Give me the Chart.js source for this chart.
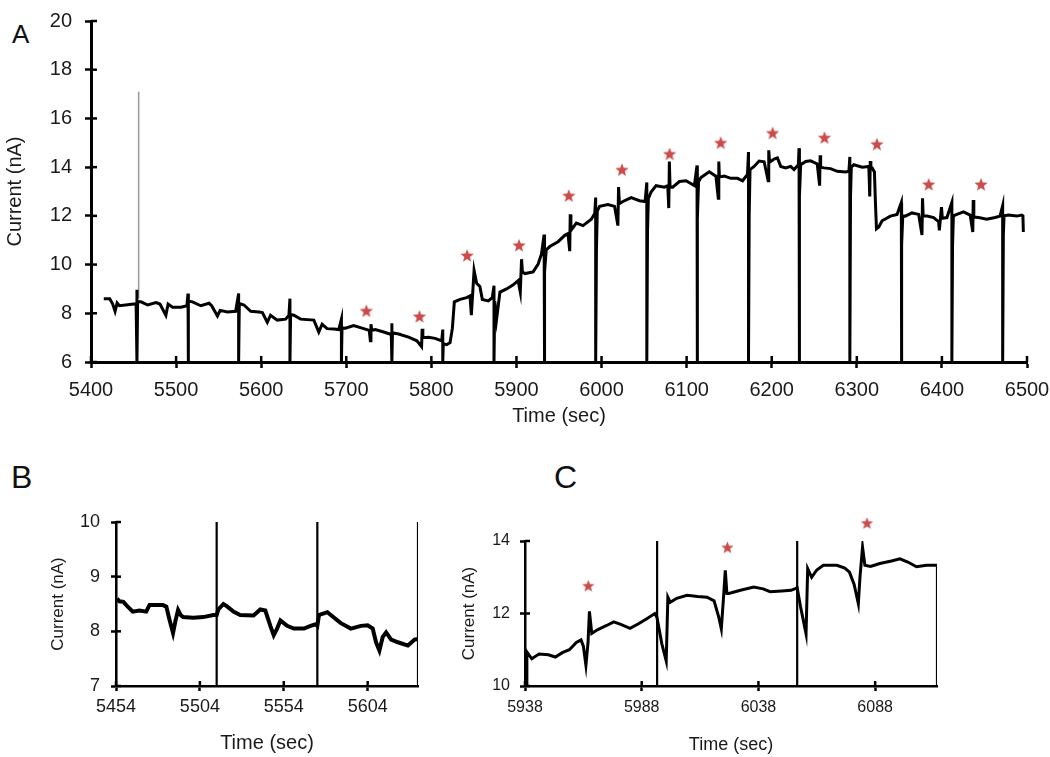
<!DOCTYPE html>
<html>
<head>
<meta charset="utf-8">
<script src="https://cdn.jsdelivr.net/npm/chart.js@4.4.1/dist/chart.umd.min.js"></script>
<style>
  html, body { margin: 0; padding: 0; background: #fff; }
  body { width: 1050px; height: 757px; position: relative; overflow: hidden; font-family: "Liberation Sans", Arial, sans-serif; }
  canvas { position: absolute; }
  .lbl { position: absolute; line-height: 1; color: #111; font-family: "Liberation Sans", Arial, sans-serif; }
</style>
</head>
<body>
<div class="lbl" style="left:12px; top:21px; font-size:26px;">A</div>
<div class="lbl" style="left:11px; top:461px; font-size:32px;">B</div>
<div class="lbl" style="left:554px; top:461px; font-size:32px;">C</div>
<canvas id="cA" width="1050" height="430" style="left:0; top:0;"></canvas>
<canvas id="cB" width="450" height="317" style="left:0; top:440px;"></canvas>
<canvas id="cC" width="610" height="317" style="left:440px; top:440px;"></canvas>
<script>
// ---------------- Panel A data ----------------
const aXTicks = [5400, 5500, 5600, 5700, 5800, 5900, 6000, 6100, 6200, 6300, 6400, 6500];
const aYTicks = [6, 8, 10, 12, 14, 16, 18, 20];
const aTime = [
  5415, 5422, 5425.5, 5428.3, 5430.7, 5433.4, 5443, 5453, 5454, 5454, 5454.8, 5458.8, 5466.6, 5476.4, 5481, 5488, 5490.6, 5495.8, 5505.7, 5512.7,
  5514, 5514, 5514.8, 5519.3, 5529, 5538.8, 5541.8, 5548.6, 5551.8, 5560.3, 5570,
  5573.5, 5573.5, 5574.3, 5579.8, 5587.7, 5597.5, 5601.4, 5607.2, 5611, 5618.9, 5628.7, 5632.6,
  5633.8, 5633.8, 5634.6, 5638.4, 5646.3, 5661.9, 5667.7, 5671.6, 5677.5, 5685.3, 5691.2,
  5694.3, 5694.3, 5695, 5699, 5708.7, 5718.5, 5727, 5728.3, 5729, 5730, 5734.2, 5743.9, 5752.9,
  5753.6, 5753.6, 5754.3, 5761.5, 5773.2, 5783, 5788.5, 5789.2, 5790, 5796.6, 5804.4, 5812.2,
  5813.4, 5813.4, 5814, 5818, 5822, 5824.7, 5827, 5833.7, 5841.5, 5845.4, 5847, 5850.2, 5853.2, 5857, 5859.9, 5866.9, 5871.6,
  5873.6, 5873.6, 5874.5, 5876.6, 5880.6, 5888.4, 5896.2, 5902, 5904.5, 5906, 5907, 5910, 5919.6, 5925.5, 5929.4,
  5932.5, 5932.5, 5933.5, 5935, 5939.2, 5948.9, 5956.8, 5960.6, 5962.6, 5963.2, 5964, 5970.4, 5978.2, 5988, 5992,
  5993.1, 5993.1, 5994, 5995, 5997.8, 6007.5, 6015.3, 6019.2, 6020, 6021, 6025.1, 6034.8, 6044.6, 6051.2,
  6053.2, 6053.2, 6054, 6055, 6058.2, 6064.1, 6073.9, 6077.8, 6079, 6079.7, 6080.5, 6083.7, 6091.5, 6099.3, 6109.1,
  6112.2, 6112.2, 6113, 6114, 6116.8, 6126.6, 6134.4, 6137.2, 6137.8, 6138.5, 6144.2, 6152, 6159.8, 6165.7, 6171.5,
  6172.7, 6172.7, 6173.5, 6174.5, 6179.3, 6185.2, 6191.1, 6195.8, 6196.5, 6197.5, 6202.8, 6206.7, 6210.6, 6216.4, 6222.3, 6226.2, 6231.3,
  6232.1, 6232.1, 6233, 6234, 6239.9, 6245.7, 6253.5, 6256.3, 6256.9, 6257.5, 6261.4, 6269.2, 6277, 6286.8, 6290.7,
  6291.8, 6291.8, 6292.6, 6293.5, 6296.5, 6306.3, 6314.1, 6315.2, 6315.8, 6316.5, 6318, 6320.7, 6321.9, 6323.1, 6325.8, 6329.7, 6339.5, 6347.3,
  6352.3, 6352.3, 6353, 6354, 6357, 6364.8, 6372.7, 6376.6, 6377.2, 6378, 6382.4, 6390.3, 6396.1, 6397, 6399.5, 6400.5, 6405.9,
  6411.7, 6411.7, 6412.5, 6413.5, 6417.6, 6425.4, 6433.2, 6436.3, 6436.8, 6437.5, 6443, 6452.7, 6462.5, 6468.3,
  6471.4, 6471.4, 6472.2, 6473, 6478.2, 6488, 6493.8, 6495.2, 6495.7
];
const aCurrent = [
  8.60, 8.60, 8.38, 8.08, 8.42, 8.31, 8.35, 8.39, 8.97, 6, 8.47, 8.47, 8.34, 8.44, 8.38, 7.92, 8.38, 8.25, 8.25, 8.31,
  8.81, 6, 8.50, 8.47, 8.31, 8.41, 8.31, 7.89, 8.12, 8.05, 8.08,
  8.81, 6, 8.40, 8.34, 8.08, 8.05, 8.03, 7.63, 7.92, 7.72, 7.76, 7.92,
  8.60, 6, 7.95, 7.92, 7.76, 7.72, 7.23, 7.55, 7.37, 7.35, 7.33,
  7.76, 6, 7.40, 7.39, 7.50, 7.39, 7.30, 6.87, 7.55, 7.30, 7.33, 7.23, 7.13,
  7.59, 6, 7.20, 7.15, 7.02, 6.87, 6.63, 7.36, 7.00, 7.02, 6.97, 6.87,
  7.33, 6, 6.75, 6.71, 6.80, 7.39, 8.47, 8.57, 8.64, 8.71, 7.92, 9.76, 9.23, 9.10, 8.57, 8.51, 8.64,
  9.13, 6, 8.50, 7.74, 8.87, 9.00, 9.17, 9.34, 8.87, 10.22, 9.70, 9.63, 9.70, 10.02, 10.44,
  11.23, 6, 9.70, 10.60, 10.74, 10.94, 11.20, 11.27, 10.55, 12.06, 11.40, 11.70, 11.60, 11.86, 12.10,
  12.75, 6, 10.60, 12.20, 12.39, 12.46, 12.39, 11.60, 13.18, 12.50, 12.59, 12.75, 12.62, 12.59,
  13.37, 6, 11.33, 12.70, 12.98, 13.24, 13.18, 13.24, 12.32, 14.23, 13.20, 13.18, 13.41, 13.44, 13.24,
  14.07, 6, 11.84, 13.40, 13.57, 13.81, 13.63, 12.72, 14.23, 13.60, 13.63, 13.54, 13.54, 13.44, 13.70,
  14.62, 6, 12.00, 13.90, 14.03, 14.25, 14.22, 13.44, 14.69, 14.20, 14.33, 14.38, 14.03, 13.97, 14.03, 13.90, 14.10,
  14.78, 6, 12.80, 14.10, 14.23, 14.26, 14.13, 13.24, 14.49, 14.00, 13.97, 13.94, 13.83, 13.80, 13.83,
  14.42, 6, 12.80, 14.00, 14.10, 14.00, 14.03, 12.80, 14.25, 14.00, 13.97, 13.80, 12.52, 11.47, 11.54, 11.80, 11.99, 12.06,
  12.55, 6, 10.80, 12.00, 11.99, 12.12, 12.06, 11.21, 12.72, 12.00, 11.99, 11.93, 11.76, 11.40, 12.36, 11.90, 11.93,
  12.55, 6, 10.80, 12.00, 12.06, 12.16, 12.03, 11.34, 12.65, 11.95, 11.93, 11.86, 11.93, 11.99,
  12.42, 6, 11.20, 12.00, 12.03, 11.99, 12.03, 12.00, 11.34
];
const aMarkerTime = [5456, 5456];
const aMarkerCurrent = [8.6, 17.1];
const aStarTime = [5723.6, 5786, 5842, 5903, 5961.5, 6024, 6080, 6140, 6201, 6262, 6323.6, 6384.4, 6446];
const aStarValue = [8.08, 7.85, 10.35, 10.77, 12.81, 13.87, 14.52, 14.98, 15.38, 15.19, 14.92, 13.27, 13.27];

// ---------------- Panel B data ----------------
const bXTicks = [5454, 5504, 5554, 5604];
const bYTicks = [7, 8, 9, 10];
const bTime = [
  5454.6, 5456, 5458.4, 5461, 5464, 5468, 5472, 5474, 5482, 5484, 5486, 5488, 5489.5, 5491, 5492.5, 5494, 5500, 5506, 5512, 5514,
  5515, 5518, 5520, 5524, 5528, 5536, 5540, 5543, 5546, 5548, 5550, 5552, 5556, 5560, 5566, 5570, 5573, 5574,
  5575, 5577, 5580, 5582, 5588, 5594, 5600, 5604, 5607, 5609, 5611, 5613, 5615, 5618, 5622, 5628, 5632, 5634
];
const bCurrent = [
  8.60, 8.55, 8.54, 8.45, 8.36, 8.38, 8.36, 8.48, 8.48, 8.45, 8.20, 7.97, 8.20, 8.39, 8.30, 8.26, 8.25, 8.26, 8.30, 8.30,
  8.40, 8.50, 8.46, 8.36, 8.30, 8.29, 8.40, 8.38, 8.10, 7.93, 8.05, 8.20, 8.10, 8.05, 8.05, 8.10, 8.13, 8.10,
  8.30, 8.32, 8.35, 8.30, 8.15, 8.05, 8.10, 8.11, 8.05, 7.80, 7.65, 7.90, 7.98, 7.85, 7.80, 7.74, 7.85, 7.86
];
const bSpikeTime = [5454, 5514, 5574, 5634];
const bSpikeLow = [7, 7, 7, 7];
const bSpikeHigh = [10, 10, 10, 10];

// ---------------- Panel C data ----------------
const cXTicks = [5938, 5988, 6038, 6088];
const cYTicks = [10, 12, 14];
const cTime = [
  5938.5, 5938.8, 5940.9, 5944, 5948, 5951, 5954, 5957, 5960, 5962, 5963, 5964.1, 5965, 5965.6, 5966.6, 5969, 5973, 5976, 5979, 5983, 5987, 5990, 5993.6, 5994.5,
  5996.6, 5998.5, 5999.2, 6000.2, 6003, 6007.4, 6012, 6016, 6019, 6021, 6022.1, 6023, 6023.8, 6024.5, 6025.3, 6030.3, 6036, 6040, 6043, 6048, 6052, 6054.6,
  6056, 6058.4, 6059.1, 6060.8, 6063, 6065.8, 6071.6, 6075, 6077, 6079, 6080.8, 6081.5, 6082.6, 6083.6, 6086, 6090, 6095, 6098.6, 6102, 6105.7, 6110, 6114.5
];
const cCurrent = [
  10.00, 10.94, 10.75, 10.88, 10.86, 10.80, 10.92, 11.00, 11.20, 11.27, 11.10, 10.57, 11.20, 12.06, 11.45, 11.55, 11.67, 11.77, 11.70, 11.59, 11.73, 11.85, 12.00, 11.90,
  11.17, 10.69, 12.45, 12.31, 12.42, 12.50, 12.47, 12.45, 12.35, 11.90, 11.58, 12.40, 13.19, 12.55, 12.55, 12.64, 12.73, 12.68, 12.60, 12.62, 12.64, 12.71,
  12.20, 11.44, 13.24, 13.00, 13.20, 13.33, 13.33, 13.25, 13.14, 12.80, 12.27, 13.00, 13.83, 13.33, 13.30, 13.38, 13.45, 13.51, 13.42, 13.29, 13.33, 13.33
];
const cSpikeTime = [5994.6, 6054.6, 6114.5];
const cSpikeLow = [10, 10, 10];
const cSpikeHigh = [14, 14, 13.33];
const cStarTime = [5965.1, 6024.7, 6084.5];
const cStarValue = [12.75, 13.81, 14.48];

// ---------------- helpers ----------------
const FONT = '"Liberation Sans", Arial, sans-serif';
const STAR_COLOR = '#cc4b4b';
const pts = (xs, ys) => xs.map((x, i) => ({ x: x, y: ys[i] }));
const spikePts = (ts, lo, hi) => {
  const out = [];
  ts.forEach((t, i) => { out.push({ x: t, y: lo[i] }, { x: t, y: hi[i] }, { x: t, y: null }); });
  return out;
};
function makeStar(r, color) {
  const s = Math.ceil(r * 2 + 2);
  const c = document.createElement('canvas');
  c.width = s; c.height = s;
  const g = c.getContext('2d');
  g.fillStyle = color;
  g.beginPath();
  for (let i = 0; i < 10; i++) {
    const rad = (i % 2) ? r * 0.42 : r;
    const a = -Math.PI / 2 + i * Math.PI / 5;
    g.lineTo(s / 2 + rad * Math.cos(a), s / 2 + rad * Math.sin(a));
  }
  g.closePath();
  g.fill();
  return c;
}
const innerTicks = {
  id: 'innerTicks',
  afterDatasetsDraw(chart, args, opts) {
    const ctx = chart.ctx;
    const len = opts.len || 5;
    ctx.save();
    ctx.strokeStyle = '#000';
    ctx.lineWidth = opts.width || 2;
    const xs = chart.scales.x, ys = chart.scales.y;
    xs.ticks.forEach(t => {
      const px = xs.getPixelForValue(t.value);
      ctx.beginPath(); ctx.moveTo(px, xs.top); ctx.lineTo(px, xs.top - len); ctx.stroke();
    });
    ys.ticks.forEach(t => {
      const py = ys.getPixelForValue(t.value);
      ctx.beginPath(); ctx.moveTo(ys.right, py); ctx.lineTo(ys.right + len, py); ctx.stroke();
    });
    ctx.restore();
  }
};

function makeChart(id, cfg) {
  const xTicks = cfg.xTicks, yTicks = cfg.yTicks;
  return new Chart(document.getElementById(id), {
    type: 'scatter',
    data: { datasets: cfg.datasets },
    plugins: [innerTicks],
    options: {
      responsive: false,
      devicePixelRatio: 1,
      animation: false,
      events: [],
      layout: { padding: cfg.padding },
      plugins: {
        legend: { display: false },
        tooltip: { enabled: false },
        innerTicks: { len: cfg.tickLen, width: cfg.tickWidth }
      },
      elements: { point: { radius: 0 }, line: { tension: 0 } },
      scales: {
        x: {
          type: 'linear',
          min: cfg.xMin, max: cfg.xMax,
          afterBuildTicks: s => { s.ticks = xTicks.map(v => ({ value: v })); },
          afterFit: s => { s.height = cfg.xHeight; s.paddingLeft = 0; s.paddingRight = 0; },
          grid: { display: true, drawOnChartArea: false, drawTicks: true, tickLength: cfg.tickLen, tickWidth: cfg.tickWidth, tickColor: '#000', color: '#000' },
          border: { display: true, color: '#000', width: cfg.borderWidth },
          ticks: { autoSkip: false, maxRotation: 0, padding: cfg.xTickPad, color: '#1a1a1a', font: { family: FONT, size: cfg.tickFont }, callback: v => String(v) },
          title: { display: true, text: 'Time (sec)', color: '#1a1a1a', font: { family: FONT, size: cfg.xTitleFont }, padding: { top: 0, bottom: cfg.xTitlePad } }
        },
        y: {
          type: 'linear',
          min: cfg.yMin, max: cfg.yMax,
          afterBuildTicks: s => { s.ticks = yTicks.map(v => ({ value: v })); },
          afterFit: s => { s.width = cfg.yWidth; s.paddingTop = 0; s.paddingBottom = 0; },
          grid: { display: true, drawOnChartArea: false, drawTicks: true, tickLength: cfg.tickLen, tickWidth: cfg.tickWidth, tickColor: '#000', color: '#000' },
          border: { display: true, color: '#000', width: cfg.borderWidth },
          ticks: { autoSkip: false, padding: cfg.yTickPad, color: '#1a1a1a', font: { family: FONT, size: cfg.tickFont }, callback: v => String(v) },
          title: { display: true, text: 'Current (nA)', color: '#1a1a1a', font: { family: FONT, size: cfg.yTitleFont }, padding: { top: cfg.yTitlePad, bottom: 0 } }
        }
      }
    }
  });
}

// ---------------- Panel A ----------------
makeChart('cA', {
  xMin: 5400, xMax: 6500, yMin: 6, yMax: 20, xTicks: aXTicks, yTicks: aYTicks,
  padding: { top: 7, right: 23, left: 0, bottom: 0 },
  xHeight: 68, yWidth: 91, tickLen: 6, tickWidth: 2.5, borderWidth: 3,
  tickFont: 20, xTickPad: 10, yTickPad: 13, xTitleFont: 20, xTitlePad: 2, yTitleFont: 20, yTitlePad: 3,
  datasets: [
    { data: pts(aStarTime, aStarValue), showLine: false, pointStyle: makeStar(7, STAR_COLOR), pointRadius: 20, order: 0, clip: false },
    { data: pts(aTime, aCurrent), showLine: true, borderColor: '#000', borderWidth: 3, order: 1 },
    { data: pts(aMarkerTime, aMarkerCurrent), showLine: true, borderColor: '#9a9a9a', borderWidth: 1.5, order: 2 }
  ]
});

// ---------------- Panel B ----------------
makeChart('cB', {
  xMin: 5454, xMax: 5634, yMin: 7, yMax: 10, xTicks: bXTicks, yTicks: bYTicks,
  padding: { top: 82, right: 32, left: 0, bottom: 0 },
  xHeight: 71, yWidth: 116, tickLen: 5, tickWidth: 2.5, borderWidth: 2.5,
  tickFont: 18, xTickPad: 5, yTickPad: 11, xTitleFont: 20, xTitlePad: 1.5, yTitleFont: 17, yTitlePad: 48,
  datasets: [
    { data: pts(bTime, bCurrent), showLine: true, borderColor: '#000', borderWidth: 4, order: 0 },
    { data: spikePts(bSpikeTime, bSpikeLow, bSpikeHigh), showLine: true, spanGaps: false, borderColor: '#000', borderWidth: 2.2, order: 1 }
  ]
});

// ---------------- Panel C ----------------
makeChart('cC', {
  xMin: 5938, xMax: 6114.5, yMin: 10, yMax: 14, xTicks: cXTicks, yTicks: cYTicks,
  padding: { top: 101, right: 113, left: 0, bottom: 0 },
  xHeight: 71, yWidth: 85, tickLen: 5, tickWidth: 2.5, borderWidth: 2.5,
  tickFont: 16, xTickPad: 7, yTickPad: 10, xTitleFont: 18, xTitlePad: 1.2, yTitleFont: 17, yTitlePad: 19,
  datasets: [
    { data: pts(cStarTime, cStarValue), showLine: false, pointStyle: makeStar(6.5, STAR_COLOR), pointRadius: 20, order: 0, clip: false },
    { data: pts(cTime, cCurrent), showLine: true, borderColor: '#000', borderWidth: 3, order: 1 },
    { data: spikePts(cSpikeTime, cSpikeLow, cSpikeHigh), showLine: true, spanGaps: false, borderColor: '#000', borderWidth: 2.2, order: 2 }
  ]
});
</script>
</body>
</html>
